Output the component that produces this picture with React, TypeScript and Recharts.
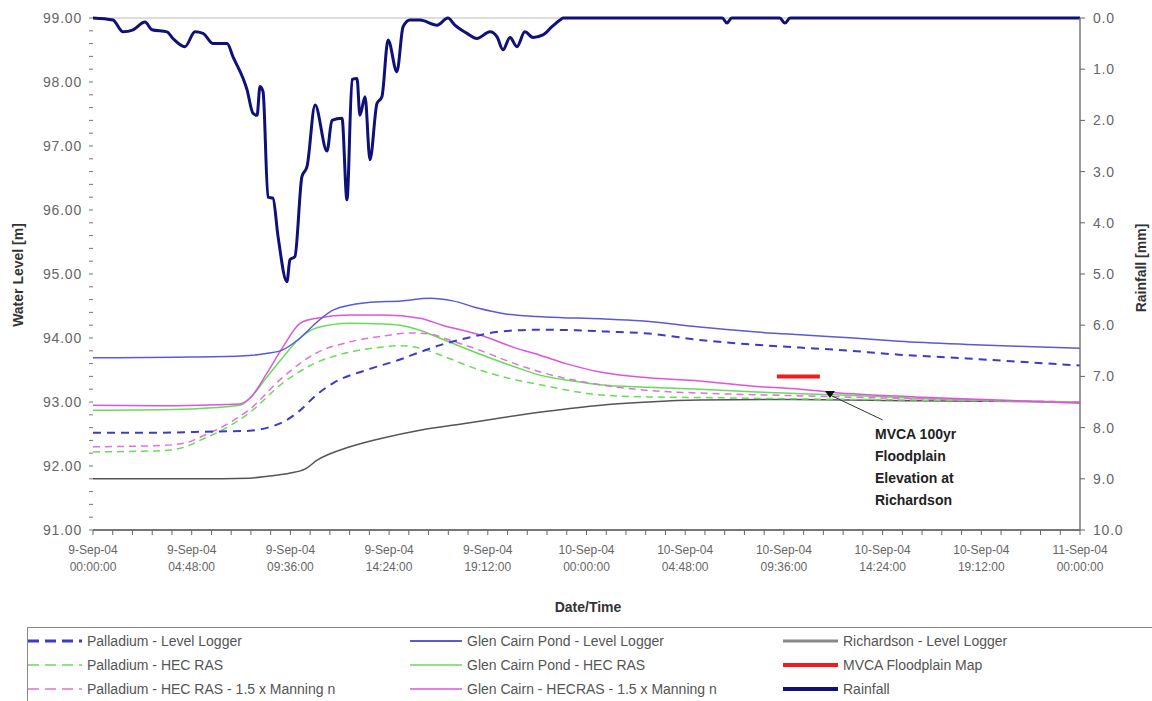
import { LineChart, Line, XAxis, YAxis, ReferenceLine, ReferenceDot } from 'recharts';

// hours from 9-Sep-04 00:00:00
const xDates = ['9-Sep-04', '9-Sep-04', '9-Sep-04', '9-Sep-04', '9-Sep-04', '10-Sep-04', '10-Sep-04', '10-Sep-04', '10-Sep-04', '10-Sep-04', '11-Sep-04'];
const xTimes = ['00:00:00', '04:48:00', '09:36:00', '14:24:00', '19:12:00', '00:00:00', '04:48:00', '09:36:00', '14:24:00', '19:12:00', '00:00:00'];

const palladiumLogger = [
  { t: 0, v: 92.52 }, { t: 3, v: 92.52 }, { t: 6, v: 92.54 }, { t: 7.6, v: 92.55 }, { t: 8.5, v: 92.6 },
  { t: 9.2, v: 92.68 }, { t: 10, v: 92.85 }, { t: 10.9, v: 93.12 }, { t: 11.7, v: 93.3 }, { t: 13.3, v: 93.5 },
  { t: 14.9, v: 93.66 }, { t: 15.9, v: 93.78 }, { t: 17, v: 93.9 }, { t: 18.2, v: 94.0 }, { t: 19.8, v: 94.1 },
  { t: 21.7, v: 94.13 }, { t: 23.5, v: 94.12 }, { t: 25, v: 94.1 }, { t: 27, v: 94.07 }, { t: 29.5, v: 93.97 },
  { t: 32, v: 93.9 }, { t: 34.4, v: 93.85 }, { t: 36, v: 93.82 }, { t: 39.2, v: 93.74 }, { t: 42.5, v: 93.68 },
  { t: 45, v: 93.63 }, { t: 48, v: 93.57 },
];
const glenLogger = [
  { t: 0, v: 93.69 }, { t: 4, v: 93.7 }, { t: 7.2, v: 93.72 }, { t: 8.5, v: 93.76 }, { t: 9.2, v: 93.81 },
  { t: 10, v: 93.98 }, { t: 10.9, v: 94.25 }, { t: 11.7, v: 94.44 }, { t: 13.3, v: 94.55 }, { t: 15, v: 94.58 },
  { t: 16.4, v: 94.62 }, { t: 17.5, v: 94.58 }, { t: 18.8, v: 94.46 }, { t: 20, v: 94.38 }, { t: 22, v: 94.33 },
  { t: 24.7, v: 94.3 }, { t: 26.6, v: 94.27 }, { t: 29.5, v: 94.17 }, { t: 32, v: 94.1 }, { t: 34.4, v: 94.05 },
  { t: 37, v: 94.0 }, { t: 39.2, v: 93.95 }, { t: 42.5, v: 93.9 }, { t: 45, v: 93.87 }, { t: 48, v: 93.84 },
];
const richardsonLogger = [
  { t: 0, v: 91.8 }, { t: 5, v: 91.8 }, { t: 7.6, v: 91.81 }, { t: 8.5, v: 91.84 }, { t: 9.6, v: 91.89 },
  { t: 10.3, v: 91.95 }, { t: 10.9, v: 92.09 }, { t: 12.5, v: 92.3 }, { t: 14, v: 92.43 }, { t: 15.9, v: 92.56 },
  { t: 18, v: 92.66 }, { t: 19.8, v: 92.75 }, { t: 22, v: 92.85 }, { t: 24.7, v: 92.95 }, { t: 27, v: 93.0 },
  { t: 29.5, v: 93.03 }, { t: 34, v: 93.04 }, { t: 40, v: 93.02 }, { t: 48, v: 93.0 },
];
const palladiumHec = [
  { t: 0, v: 92.22 }, { t: 3.3, v: 92.24 }, { t: 4.5, v: 92.3 }, { t: 5.2, v: 92.4 }, { t: 6.5, v: 92.6 },
  { t: 7.6, v: 92.83 }, { t: 9.24, v: 93.3 }, { t: 10.89, v: 93.62 }, { t: 12.5, v: 93.78 }, { t: 14.1, v: 93.86 },
  { t: 14.93, v: 93.88 }, { t: 15.9, v: 93.84 }, { t: 17, v: 93.72 }, { t: 18.8, v: 93.5 }, { t: 20.5, v: 93.35 },
  { t: 21.74, v: 93.27 }, { t: 24.66, v: 93.11 }, { t: 27, v: 93.08 }, { t: 29.5, v: 93.07 }, { t: 34, v: 93.05 },
  { t: 40, v: 93.03 }, { t: 48, v: 93.0 },
];
const glenHec = [
  { t: 0, v: 92.87 }, { t: 3.3, v: 92.88 }, { t: 5.2, v: 92.9 }, { t: 7.15, v: 92.95 }, { t: 7.6, v: 93.05 },
  { t: 8.46, v: 93.39 }, { t: 9.24, v: 93.7 }, { t: 10.07, v: 94.0 }, { t: 10.89, v: 94.16 }, { t: 12.5, v: 94.23 },
  { t: 14.1, v: 94.22 }, { t: 14.93, v: 94.2 }, { t: 15.9, v: 94.12 }, { t: 17, v: 93.98 }, { t: 18.8, v: 93.75 },
  { t: 20.5, v: 93.55 }, { t: 21.74, v: 93.42 }, { t: 23.5, v: 93.32 }, { t: 24.66, v: 93.27 }, { t: 27, v: 93.23 },
  { t: 29.5, v: 93.2 }, { t: 32, v: 93.16 }, { t: 34.4, v: 93.13 }, { t: 37, v: 93.1 }, { t: 40, v: 93.06 },
  { t: 44, v: 93.02 }, { t: 48, v: 93.0 },
];
const palladiumHec15 = [
  { t: 0, v: 92.3 }, { t: 3.3, v: 92.32 }, { t: 4.5, v: 92.36 }, { t: 5.2, v: 92.45 }, { t: 6.5, v: 92.65 },
  { t: 7.6, v: 92.88 }, { t: 9.24, v: 93.39 }, { t: 10.89, v: 93.77 }, { t: 12.5, v: 93.94 }, { t: 14.1, v: 94.03 },
  { t: 15.5, v: 94.08 }, { t: 16.4, v: 94.06 }, { t: 17.5, v: 93.95 }, { t: 18.8, v: 93.81 }, { t: 20.5, v: 93.6 },
  { t: 21.74, v: 93.47 }, { t: 24.66, v: 93.27 }, { t: 27, v: 93.18 }, { t: 29.5, v: 93.14 }, { t: 34, v: 93.1 },
  { t: 40, v: 93.05 }, { t: 48, v: 93.0 },
];
const glenHec15 = [
  { t: 0, v: 92.95 }, { t: 3.3, v: 92.94 }, { t: 5.2, v: 92.95 }, { t: 7.15, v: 92.97 }, { t: 7.6, v: 93.05 },
  { t: 8.46, v: 93.45 }, { t: 9.24, v: 93.86 }, { t: 10.07, v: 94.23 }, { t: 10.89, v: 94.31 }, { t: 12.5, v: 94.36 },
  { t: 14.1, v: 94.36 }, { t: 15.9, v: 94.31 }, { t: 17, v: 94.2 }, { t: 18.8, v: 94.05 }, { t: 20.5, v: 93.85 },
  { t: 21.74, v: 93.73 }, { t: 23, v: 93.6 }, { t: 24.66, v: 93.47 }, { t: 27, v: 93.38 }, { t: 29.5, v: 93.33 },
  { t: 32, v: 93.25 }, { t: 34.4, v: 93.2 }, { t: 36, v: 93.15 }, { t: 40, v: 93.08 }, { t: 44, v: 93.03 },
  { t: 48, v: 92.98 },
];
const mvcaFloodplain = [{ t: 33.26, v: 93.4 }, { t: 35.35, v: 93.4 }];
const rainfall = [
  { t: 0, v: 0 }, { t: 0.97, v: 0.04 }, { t: 1.46, v: 0.27 }, { t: 1.95, v: 0.23 }, { t: 2.53, v: 0.08 },
  { t: 2.87, v: 0.23 }, { t: 3.6, v: 0.27 }, { t: 3.89, v: 0.4 }, { t: 4.47, v: 0.56 }, { t: 4.96, v: 0.27 },
  { t: 5.35, v: 0.3 }, { t: 5.84, v: 0.5 }, { t: 6.52, v: 0.5 }, { t: 6.81, v: 0.76 }, { t: 7.49, v: 1.4 },
  { t: 7.78, v: 1.86 }, { t: 7.98, v: 1.9 }, { t: 8.12, v: 1.34 }, { t: 8.27, v: 1.44 }, { t: 8.51, v: 3.5 },
  { t: 8.75, v: 3.52 }, { t: 9.0, v: 4.27 }, { t: 9.43, v: 5.15 }, { t: 9.58, v: 4.72 }, { t: 9.82, v: 4.66 },
  { t: 10.16, v: 3.1 }, { t: 10.41, v: 2.9 }, { t: 10.8, v: 1.7 }, { t: 11.38, v: 2.6 }, { t: 11.62, v: 2.0 },
  { t: 12.11, v: 1.96 }, { t: 12.35, v: 3.55 }, { t: 12.6, v: 1.2 }, { t: 12.84, v: 1.18 }, { t: 12.98, v: 1.9 },
  { t: 13.23, v: 1.54 }, { t: 13.47, v: 2.77 }, { t: 13.81, v: 1.67 }, { t: 14.05, v: 1.54 }, { t: 14.35, v: 0.43 },
  { t: 14.78, v: 1.05 }, { t: 15.08, v: 0.17 }, { t: 15.42, v: 0.04 }, { t: 15.9, v: 0.04 }, { t: 16.73, v: 0.14 },
  { t: 17.26, v: 0 }, { t: 17.6, v: 0.14 }, { t: 18.19, v: 0.3 }, { t: 18.67, v: 0.4 }, { t: 19.31, v: 0.27 },
  { t: 19.65, v: 0.37 }, { t: 19.94, v: 0.62 }, { t: 20.28, v: 0.38 }, { t: 20.62, v: 0.56 }, { t: 21.0, v: 0.27 },
  { t: 21.4, v: 0.38 }, { t: 21.88, v: 0.33 }, { t: 22.32, v: 0.17 }, { t: 22.71, v: 0.04 }, { t: 22.86, v: 0 },
  { t: 30.6, v: 0 }, { t: 30.83, v: 0.1 }, { t: 31.06, v: 0 }, { t: 33.4, v: 0 }, { t: 33.65, v: 0.1 },
  { t: 33.9, v: 0 }, { t: 48, v: 0 },
];

const xTicks = Array.from({ length: 51 }, (_, i) => +(i * 0.96).toFixed(2));
const leftTicks = Array.from({ length: 41 }, (_, i) => +(91 + i * 0.2).toFixed(1));
const rightTicks = [0, 1, 2, 3, 4, 5, 6, 7, 8, 9, 10];

const FONT = '"Liberation Sans", Arial, sans-serif';

const XTick = (props: any) => {
  const { x, y, payload } = props;
  const i = Math.round(payload.value / 0.96);
  if (i % 5 !== 0) return <g />;
  const k = i / 5;
  return (
    <text x={x} y={y} textAnchor="middle" fill="#666" fontSize={12} fontFamily={FONT}>
      <tspan x={x} dy={17}>{xDates[k]}</tspan>
      <tspan x={x} dy={17}>{xTimes[k]}</tspan>
    </text>
  );
};

const LeftTick = (props: any) => {
  const { x, y, payload } = props;
  const i = Math.round((payload.value - 91) / 0.2);
  if (i % 5 !== 0) return <g />;
  return (
    <text x={x} y={y} dy="0.36em" textAnchor="end" fill="#666" fontSize={14} letterSpacing={0.8} fontFamily={FONT}>
      {payload.value.toFixed(2)}
    </text>
  );
};

const RightTick = (props: any) => {
  const { x, y, payload } = props;
  return (
    <text x={x} y={y} dy="0.36em" textAnchor="start" fill="#666" fontSize={14} letterSpacing={0.8} fontFamily={FONT}>
      {payload.value.toFixed(1)}
    </text>
  );
};

const legendItems = [
  { name: 'Palladium - Level Logger', color: '#3b3bc8', dash: '11 6', width: 3, col: 0, row: 0 },
  { name: 'Palladium - HEC RAS', color: '#66dd55', dash: '11 6', width: 1.5, col: 0, row: 1 },
  { name: 'Palladium - HEC RAS - 1.5 x Manning n', color: '#e070e0', dash: '11 6', width: 1.5, col: 0, row: 2 },
  { name: 'Glen Cairn Pond - Level Logger', color: '#5a5ad6', dash: '', width: 2, col: 1, row: 0 },
  { name: 'Glen Cairn Pond - HEC RAS', color: '#66dd55', dash: '', width: 1.5, col: 1, row: 1 },
  { name: 'Glen Cairn - HECRAS - 1.5 x Manning n', color: '#dd55dd', dash: '', width: 1.5, col: 1, row: 2 },
  { name: 'Richardson - Level Logger', color: '#888', dash: '', width: 3, col: 2, row: 0 },
  { name: 'MVCA Floodplain Map', color: '#ee1c1c', dash: '', width: 4, col: 2, row: 1 },
  { name: 'Rainfall', color: '#10107a', dash: '', width: 4, col: 2, row: 2 },
];
const colLine = [28, 410, 783];
const colLineW = [54, 52, 55];

export default function App() {
  return (
    <div style={{ position: 'absolute', left: 0, top: 0, width: 1152, height: 701, background: '#fff', overflow: 'hidden', fontFamily: FONT }}>
      <LineChart width={1152} height={600} margin={{ top: 18, right: 0, bottom: 20, left: 0 }}>
        <XAxis
          dataKey="t"
          type="number"
          domain={[0, 48]}
          ticks={xTicks}
          interval={0}
          height={50}
          tick={XTick}
          tickSize={5}
          tickMargin={2}
          tickLine={{ stroke: '#666' }}
          axisLine={{ stroke: '#777', strokeWidth: 2 }}
          allowDataOverflow
        />
        <YAxis
          yAxisId="left"
          type="number"
          domain={[91, 99]}
          ticks={leftTicks}
          interval={0}
          width={93}
          tick={LeftTick}
          tickSize={4}
          tickMargin={7}
          tickLine={{ stroke: '#777' }}
          axisLine={false}
        />
        <YAxis
          yAxisId="right"
          orientation="right"
          type="number"
          domain={[0, 10]}
          reversed
          ticks={rightTicks}
          interval={0}
          width={72}
          tick={RightTick}
          tickSize={5}
          tickMargin={8}
          tickLine={{ stroke: '#666' }}
          axisLine={{ stroke: '#777', strokeWidth: 1.5 }}
        />
        <ReferenceLine yAxisId="left" y={99} stroke="#bbb" />

        <Line yAxisId="left" data={richardsonLogger} dataKey="v" name="Richardson - Level Logger" type="monotone" stroke="#555" strokeWidth={1.5} dot={false} isAnimationActive={false} />
        <Line yAxisId="left" data={palladiumHec} dataKey="v" name="Palladium - HEC RAS" type="monotone" stroke="#66dd55" strokeWidth={1.5} strokeDasharray="7 5" dot={false} isAnimationActive={false} />
        <Line yAxisId="left" data={glenHec} dataKey="v" name="Glen Cairn Pond - HEC RAS" type="monotone" stroke="#66dd55" strokeWidth={1.5} dot={false} isAnimationActive={false} />
        <Line yAxisId="left" data={palladiumHec15} dataKey="v" name="Palladium - HEC RAS - 1.5 x Manning n" type="monotone" stroke="#e070e0" strokeWidth={1.5} strokeDasharray="7 5" dot={false} isAnimationActive={false} />
        <Line yAxisId="left" data={glenHec15} dataKey="v" name="Glen Cairn - HECRAS - 1.5 x Manning n" type="monotone" stroke="#dd55dd" strokeWidth={1.5} dot={false} isAnimationActive={false} />
        <Line yAxisId="left" data={palladiumLogger} dataKey="v" name="Palladium - Level Logger" type="monotone" stroke="#3b3bc8" strokeWidth={2} strokeDasharray="8 6" dot={false} isAnimationActive={false} />
        <Line yAxisId="left" data={glenLogger} dataKey="v" name="Glen Cairn Pond - Level Logger" type="monotone" stroke="#5a5ad6" strokeWidth={1.5} dot={false} isAnimationActive={false} />
        <Line yAxisId="left" data={mvcaFloodplain} dataKey="v" name="MVCA Floodplain Map" type="linear" stroke="#ee1c1c" strokeWidth={4} dot={false} isAnimationActive={false} />
        <Line yAxisId="right" data={rainfall} dataKey="v" name="Rainfall" type="monotone" stroke="#10107a" strokeWidth={3} strokeLinejoin="round" dot={false} isAnimationActive={false} />

        <ReferenceLine
          yAxisId="left"
          segment={[{ x: 35.84, y: 93.11 }, { x: 38.4, y: 92.72 }]}
          stroke="#333"
          strokeWidth={1}
        />
        <ReferenceDot
          yAxisId="left"
          x={35.84}
          y={93.11}
          r={4}
          shape={(p: any) => (
            <path d={`M${p.cx - 5},${p.cy - 4} L${p.cx + 5},${p.cy - 4} L${p.cx},${p.cy + 3} Z`} fill="#111" />
          )}
        />
      </LineChart>

      <div style={{ position: 'absolute', left: 875, top: 423, fontWeight: 'bold', fontSize: 14, lineHeight: '22px', color: '#222' }}>
        MVCA 100yr<br />Floodplain<br />Elevation at<br />Richardson
      </div>

      <div style={{ position: 'absolute', left: 18, top: 275, transform: 'translate(-50%, -50%) rotate(-90deg)', whiteSpace: 'nowrap', fontWeight: 'bold', fontSize: 14, color: '#333' }}>
        Water Level [m]
      </div>
      <div style={{ position: 'absolute', left: 1141, top: 268, transform: 'translate(-50%, -50%) rotate(-90deg)', whiteSpace: 'nowrap', fontWeight: 'bold', fontSize: 14, color: '#333' }}>
        Rainfall [mm]
      </div>
      <div style={{ position: 'absolute', left: 588, top: 607, transform: 'translate(-50%, -50%)', whiteSpace: 'nowrap', fontWeight: 'bold', fontSize: 14, color: '#333' }}>
        Date/Time
      </div>

      <div style={{ position: 'absolute', left: 27, top: 627, width: 1140, height: 90, border: '1px solid #888', boxSizing: 'border-box' }}>
        {legendItems.map((it) => {
          const top = 2 + it.row * 24;
          const lx = colLine[it.col] - 28;
          return (
            <div key={it.name} style={{ position: 'absolute', left: lx, top, height: 22, display: 'flex', alignItems: 'center', whiteSpace: 'nowrap' }}>
              <svg width={colLineW[it.col]} height={10} style={{ display: 'block' }}>
                <line x1={0} y1={5} x2={colLineW[it.col]} y2={5} stroke={it.color} strokeWidth={it.width} strokeDasharray={it.dash || undefined} />
              </svg>
              <span style={{ marginLeft: 5, fontSize: 14, color: '#555' }}>{it.name}</span>
            </div>
          );
        })}
      </div>
    </div>
  );
}
